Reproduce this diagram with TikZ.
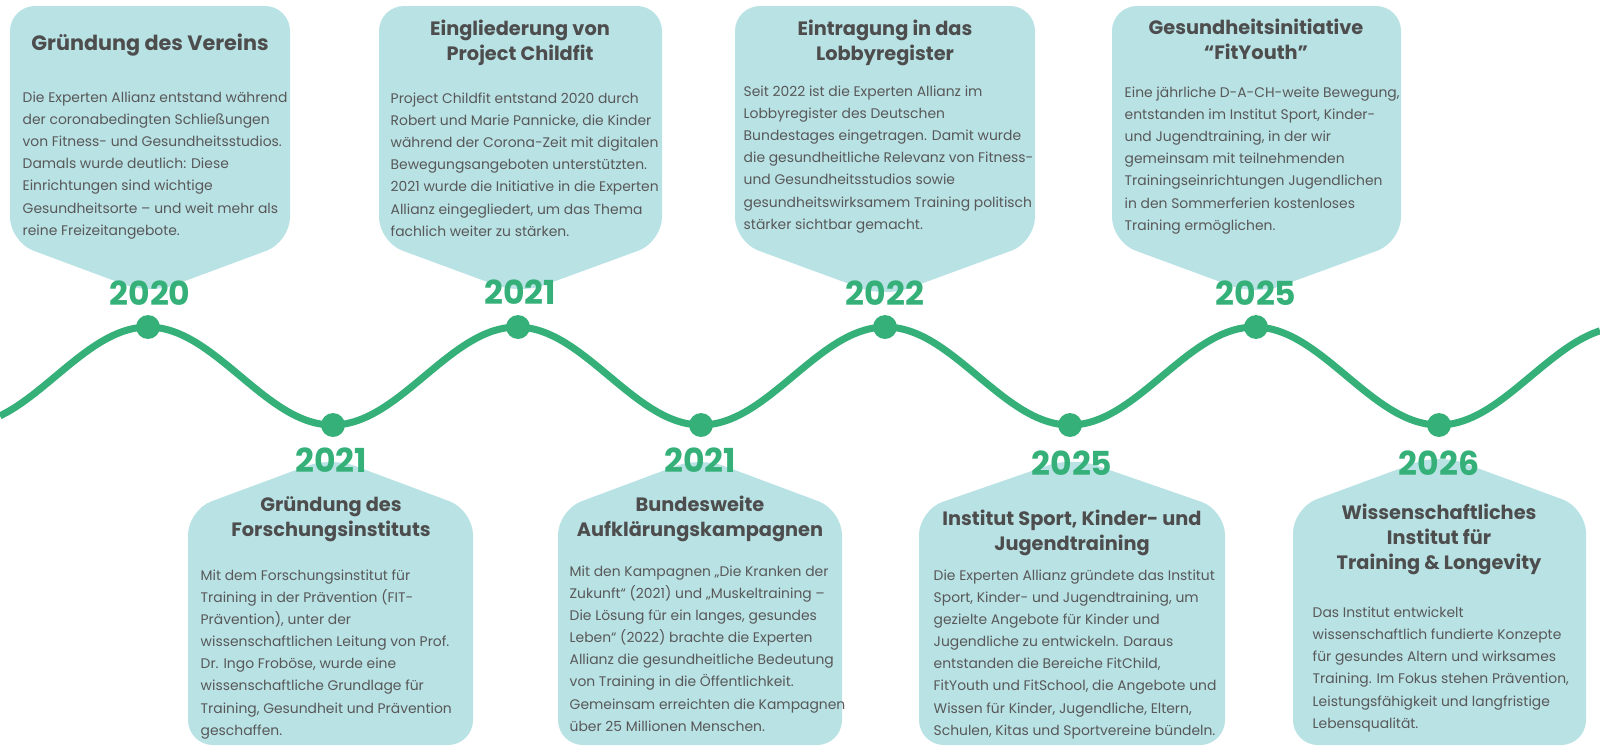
\documentclass[tikz,border=0pt]{standalone}
\usepackage{xcolor}
\usepackage{fontspec}
\setmainfont{Poppins}
\usepackage{tikz}

\begin{document}
\begin{tikzpicture}[x=0.01cm, y=-0.01cm]
    \definecolor{myteal}{RGB}{185,226,229}
    \definecolor{mygreen}{RGB}{52,176,120}
    \definecolor{mygrayd}{RGB}{77,77,77}
    \definecolor{mygrayl}{RGB}{88,88,88}

    \tikzstyle{bubble}=[fill=myteal,rounded corners=7.1pt]  % Sprechblase
    \tikzstyle{year}=[text=mygreen,font=\fontsize{9.4pt}{10pt}\selectfont\bfseries,inner sep=0pt,anchor=base]
    % anchor=base = Grundlinie der letzten Zeile
    \tikzstyle{title}=[text=mygrayd,font=\fontsize{5.5pt}{7.1pt}\selectfont\bfseries,align=center,inner sep=0pt,anchor=base]
    \tikzstyle{body}=[text=mygrayl,font=\fontsize{3.95pt}{6.26pt}\selectfont,align=left,inner sep=0pt,anchor=base west]
    \tikzstyle{dot}=[circle,fill=mygreen,inner sep=0pt,minimum size=6.8pt]

    \useasboundingbox (0,0) rectangle (1600,750);

    % Sprechblasen oben
    \fill[bubble] (10,6) -- (290,6) -- (290,242) -- (150,294) -- (10,242) -- cycle;
    \fill[bubble] (379,6) -- (662,6) -- (662,242) -- (520,294) -- (379,242) -- cycle;
    \fill[bubble] (735,6) -- (1035,6) -- (1035,242) -- (885,297) -- (735,242) -- cycle;
    \fill[bubble] (1112,6) -- (1401,6) -- (1401,242) -- (1256,295) -- (1112,242) -- cycle;
    % Sprechblasen unten
    \fill[bubble] (188,745) -- (188,510) -- (331,457) -- (473,510) -- (473,745) -- cycle;
    \fill[bubble] (558,745) -- (558,510) -- (700,457) -- (842,510) -- (842,745) -- cycle;
    \fill[bubble] (919,745) -- (919,510) -- (1072,457) -- (1225,510) -- (1225,745) -- cycle;
    \fill[bubble] (1293,745) -- (1293,508) -- (1439,454) -- (1586,508) -- (1586,745) -- cycle;

    % Zeitlinie
    \draw[mygreen,line width=2pt,domain=0:1600,samples=200,smooth]
        plot (\x,{376-49*cos(0.97614*(\x-148))});
    \node[dot](d1) at (148,327){};
    \node[dot](d2) at (333,425){};
    \node[dot](d3) at (518,327){};
    \node[dot](d4) at (701,425){};
    \node[dot](d5) at (885,327){};
    \node[dot](d6) at (1070,425){};
    \node[dot](d7) at (1256,327){};
    \node[dot](d8) at (1439,425){};

    % Jahreszahlen
    \node[year](y1) at (150,305){2020};
    \node[year](y2) at (520,304){2021};
    \node[year](y3) at (885,305){2022};
    \node[year](y4) at (1256,305){2025};
    \node[year](y5) at (331,472){2021};
    \node[year](y6) at (700,472){2021};
    \node[year](y7) at (1072,475){2025};
    \node[year](y8) at (1439,475){2026};

    % Titel
    \node[title,font=\fontsize{5.9pt}{7.1pt}\selectfont\bfseries](t1) at (150,50){Gründung des Vereins};
    \node[title](t2) at (520,60){Eingliederung von\\Project Childfit};
    \node[title](t3) at (885,60){Eintragung in das\\Lobbyregister};
    \node[title](t4) at (1256,59){Gesundheitsinitiative\\“FitYouth”};
    \node[title](t5) at (331,536){Gründung des\\Forschungsinstituts};
    \node[title](t6) at (700,536){Bundesweite\\Aufklärungskampagnen};
    \node[title](t7) at (1072,550){Institut Sport, Kinder- und\\Jugendtraining};
    \node[title](t8) at (1439,569){Wissenschaftliches\\Institut für\\Training \& Longevity};

    % Texte
    \node[body](b1) at (22,235){Die Experten Allianz entstand während\\der coronabedingten Schließungen\\von Fitness- und Gesundheitsstudios.\\Damals wurde deutlich: Diese\\Einrichtungen sind wichtige\\Gesundheitsorte – und weit mehr als\\reine Freizeitangebote.};
    \node[body](b2) at (390,236){Project Childfit entstand 2020 durch\\Robert und Marie Pannicke, die Kinder\\während der Corona-Zeit mit digitalen\\Bewegungsangeboten unterstützten.\\2021 wurde die Initiative in die Experten\\Allianz eingegliedert, um das Thema\\fachlich weiter zu stärken.};
    \node[body](b3) at (743,229){Seit 2022 ist die Experten Allianz im\\Lobbyregister des Deutschen\\Bundestages eingetragen. Damit wurde\\die gesundheitliche Relevanz von Fitness-\\und Gesundheitsstudios sowie\\gesundheitswirksamem Training politisch\\stärker sichtbar gemacht.};
    \node[body](b4) at (1124,230){Eine jährliche D-A-CH-weite Bewegung,\\entstanden im Institut Sport, Kinder-\\und Jugendtraining, in der wir\\gemeinsam mit teilnehmenden\\Trainingseinrichtungen Jugendlichen\\in den Sommerferien kostenloses\\Training ermöglichen.};
    \node[body](b5) at (200,735){Mit dem Forschungsinstitut für\\Training in der Prävention (FIT-\\Prävention), unter der\\wissenschaftlichen Leitung von Prof.\\Dr. Ingo Froböse, wurde eine\\wissenschaftliche Grundlage für\\Training, Gesundheit und Prävention\\geschaffen.};
    \node[body](b6) at (569,731){Mit den Kampagnen „Die Kranken der\\Zukunft“ (2021) und „Muskeltraining –\\Die Lösung für ein langes, gesundes\\Leben“ (2022) brachte die Experten\\Allianz die gesundheitliche Bedeutung\\von Training in die Öffentlichkeit.\\Gemeinsam erreichten die Kampagnen\\über 25 Millionen Menschen.};
    \node[body](b7) at (933,735){Die Experten Allianz gründete das Institut\\Sport, Kinder- und Jugendtraining, um\\gezielte Angebote für Kinder und\\Jugendliche zu entwickeln. Daraus\\entstanden die Bereiche FitChild,\\FitYouth und FitSchool, die Angebote und\\Wissen für Kinder, Jugendliche, Eltern,\\Schulen, Kitas und Sportvereine bündeln.};
    \node[body](b8) at (1312,728){Das Institut entwickelt\\wissenschaftlich fundierte Konzepte\\für gesundes Altern und wirksames\\Training. Im Fokus stehen Prävention,\\Leistungsfähigkeit und langfristige\\Lebensqualität.};
\end{tikzpicture}
\end{document}
